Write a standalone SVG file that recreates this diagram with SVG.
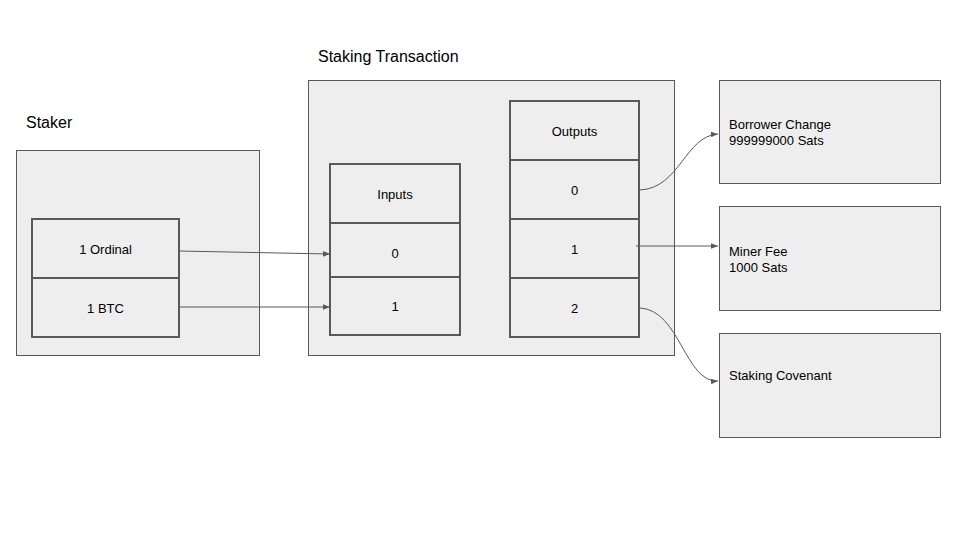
<svg xmlns="http://www.w3.org/2000/svg" width="960" height="540" viewBox="0 0 960 540">
<defs>
<style>
text{font-family:"Liberation Sans",Arial,sans-serif;fill:#000;font-size:13px}
.title{font-size:16px}
.outer{fill:#eeeeee;stroke:#595959;stroke-width:1}
.cell{fill:#eeeeee;stroke:#595959;stroke-width:2}
.mid{text-anchor:middle;dominant-baseline:central}
.conn{fill:none;stroke:#595959;stroke-width:1}
</style>
<marker id="arr" viewBox="0 0 10 10" refX="10" refY="5" markerWidth="7" markerHeight="7" markerUnits="userSpaceOnUse" orient="auto">
<path d="M0,1 L10,5 L0,9 z" fill="#595959"/>
</marker>
</defs>
<rect width="960" height="540" fill="#fff"/>
<g id="staker">
<text class="title" x="26" y="128">Staker</text>
<rect class="outer" x="16.5" y="150.5" width="243" height="205"/>
<rect class="cell" x="32" y="219" width="147" height="59"/>
<text class="mid" x="105.5" y="249">1 Ordinal</text>
<rect class="cell" x="32" y="278" width="147" height="59"/>
<text class="mid" x="105.5" y="308">1 BTC</text>
</g>
<g id="staking-transaction">
<text class="title" x="318" y="62">Staking Transaction</text>
<rect class="outer" x="308.5" y="80.5" width="366" height="275"/>
</g>
<g id="inputs">
<rect class="cell" x="330" y="164" width="130" height="59"/>
<text class="mid" x="395" y="194">Inputs</text>
<rect class="cell" x="330" y="223" width="130" height="54"/>
<text class="mid" x="395" y="253">0</text>
<rect class="cell" x="330" y="277" width="130" height="58"/>
<text class="mid" x="395" y="306">1</text>
</g>
<g id="outputs">
<rect class="cell" x="510" y="101" width="129" height="59"/>
<text class="mid" x="574.5" y="131">Outputs</text>
<rect class="cell" x="510" y="160" width="129" height="59"/>
<text class="mid" x="574.5" y="190">0</text>
<rect class="cell" x="510" y="219" width="129" height="59"/>
<text class="mid" x="574.5" y="249">1</text>
<rect class="cell" x="510" y="278" width="129" height="59"/>
<text class="mid" x="574.5" y="308">2</text>
</g>
<g id="borrower-change">
<rect class="outer" x="719.5" y="80.5" width="221" height="103"/>
<text x="729" y="129">Borrower Change</text>
<text x="729" y="145">999999000 Sats</text>
</g>
<g id="miner-fee">
<rect class="outer" x="719.5" y="206.5" width="221" height="104"/>
<text x="729" y="256">Miner Fee</text>
<text x="729" y="272">1000 Sats</text>
</g>
<g id="staking-covenant">
<rect class="outer" x="719.5" y="333.5" width="221" height="104"/>
<text x="729" y="380">Staking Covenant</text>
</g>
<g id="connectors">
<path class="conn" d="M179,251 L330,254" marker-end="url(#arr)"/>
<path class="conn" d="M179,307 L330,307" marker-end="url(#arr)"/>
<path class="conn" d="M640,190 C680,188 685,136 718,134" marker-end="url(#arr)"/>
<path class="conn" d="M636,246 L718,246" marker-end="url(#arr)"/>
<path class="conn" d="M640,308 C680,310 685,383 718,381" marker-end="url(#arr)"/>
</g>
</svg>
